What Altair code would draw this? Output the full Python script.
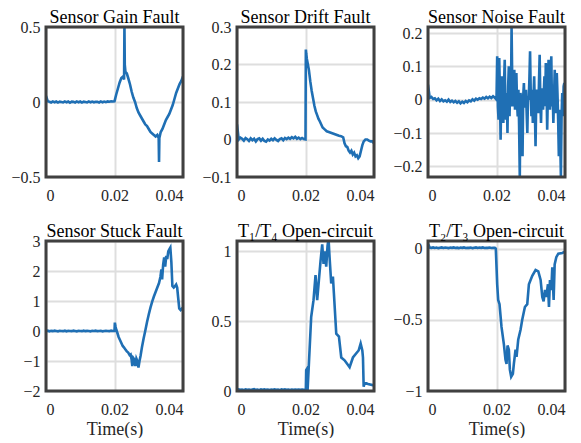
import altair as alt
import pandas as pd

# ---------------- data ----------------
# sampling grid of the healthy part (0 .. 0.0195 s)
T_PRE = [round(0.0005 * i, 4) for i in range(40)]

# Panel 1: Sensor Gain Fault
GAIN_PRE = [0.04, 0.005, 0.002, -0.003, 0.004, -0.002, 0.003, -0.004, 0.002, 0.000,
            -0.003, 0.004, -0.002, 0.003, -0.005, 0.002, 0.001, -0.003, 0.004, -0.002,
            0.003, -0.004, 0.002, 0.000, -0.003, 0.004, -0.002, 0.003, -0.002, 0.002,
            0.001, -0.003, 0.004, -0.002, 0.003, -0.001, 0.004, 0.002, 0.005, 0.003]
GAIN_T = [0.0200, 0.0205, 0.0210, 0.0215, 0.0220, 0.0225, 0.0228, 0.0229, 0.0230, 0.0232,
          0.0236, 0.0240, 0.0245, 0.0250, 0.0255, 0.0260, 0.0265, 0.0270, 0.0275, 0.0280,
          0.0285, 0.0290, 0.0295, 0.0300, 0.0305, 0.0310, 0.0315, 0.0320, 0.0325, 0.0329,
          0.0330, 0.0331, 0.0335, 0.0340, 0.0345, 0.0350, 0.0355, 0.0360, 0.0365, 0.0370,
          0.0375, 0.0380, 0.0385, 0.0390, 0.0395, 0.0400]
GAIN_V = [0.005, 0.05, 0.09, 0.13, 0.16, 0.17, 0.15, 0.52, 0.25, 0.20,
          0.19, 0.16, 0.12, 0.07, 0.03, 0.00, -0.04, -0.07, -0.09, -0.11,
          -0.13, -0.15, -0.16, -0.18, -0.20, -0.21, -0.22, -0.23, -0.22, -0.24,
          -0.40, -0.24, -0.20, -0.18, -0.15, -0.12, -0.10, -0.08, -0.05, -0.02,
          0.02, 0.06, 0.09, 0.12, 0.14, 0.17]

# Panel 2: Sensor Drift Fault
DRIFT_PRE = [0.04, 0.0, 0.005, 0.002, -0.003, 0.004, 0.001, -0.004, 0.003, -0.002,
             0.002, -0.005, 0.001, 0.003, -0.003, 0.002, -0.004, -0.006, 0.0, -0.003,
             0.002, -0.002, 0.003, -0.001, -0.004, 0.001, 0.003, -0.002, 0.004, 0.001,
             0.005, 0.002, 0.006, 0.003, 0.007, 0.002, 0.005, 0.001, 0.004, 0.001]
DRIFT_T = [0.0200, 0.0201, 0.0202, 0.0204, 0.0207, 0.0210, 0.0214, 0.0218, 0.0222, 0.0226,
           0.0230, 0.0234, 0.0238, 0.0242, 0.0246, 0.0250, 0.0256, 0.0262, 0.0268, 0.0274,
           0.0280, 0.0286, 0.0292, 0.0298, 0.0304, 0.0310, 0.0314, 0.0318, 0.0322, 0.0326,
           0.0330, 0.0334, 0.0338, 0.0342, 0.0346, 0.0350, 0.0354, 0.0358, 0.0362, 0.0366,
           0.0370, 0.0375, 0.0380, 0.0385, 0.0390, 0.0395, 0.0400]
DRIFT_V = [0.0, 0.24, 0.23, 0.215, 0.20, 0.185, 0.155, 0.13, 0.11, 0.09,
           0.075, 0.065, 0.055, 0.048, 0.04, 0.032, 0.027, 0.022, 0.02, 0.018,
           0.016, 0.014, 0.012, 0.01, 0.009, 0.006, -0.01, -0.018, -0.02, -0.03,
           -0.035, -0.03, -0.04, -0.035, -0.045, -0.042, -0.05, -0.045, -0.03, -0.015,
           -0.005, 0.0, 0.0, -0.003, -0.005, -0.005, -0.01]

# Panel 3: Sensor Noise Fault
NOISE_PRE = [0.045, 0.005, 0.008, 0.002, 0.004, -0.002, 0.003, -0.004, 0.001, -0.005,
             -0.002, -0.006, 0.000, -0.007, -0.003, -0.008, -0.004, -0.009, -0.005, -0.011,
             -0.006, -0.01, -0.004, -0.008, -0.002, -0.005, 0.001, -0.003, 0.003, 0.000,
             0.004, 0.002, 0.006, 0.003, 0.008, 0.004, 0.009, 0.005, 0.01, 0.006]
NOISE_T = [round(0.02 + 0.0002 * i, 4) for i in range(101)]
NOISE_V = [0.00, 0.13, -0.02, -0.06, 0.125, 0.02, -0.12, 0.03, 0.07, -0.04,
           -0.07, 0.05, 0.12, -0.03, -0.06, 0.02, -0.10, 0.04, 0.10, -0.05,
           0.03, -0.02, 0.22, 0.05, -0.02, 0.04, 0.09, -0.03, 0.02, 0.08,
           -0.01, -0.05, 0.03, -0.08, -0.235, 0.02, 0.00, -0.04, -0.17, 0.01,
           0.05, -0.02, -0.02, 0.03, -0.04, -0.10, 0.01, 0.00, 0.06, 0.145,
           0.02, -0.05, 0.03, -0.07, 0.01, 0.07, -0.03, -0.14, 0.00, 0.03,
           -0.02, -0.04, 0.05, 0.135, 0.00, -0.07, 0.03, 0.03, -0.03, 0.02,
           0.07, -0.02, 0.11, 0.04, -0.09, 0.02, 0.12, -0.01, -0.03, 0.05,
           0.13, -0.02, 0.03, -0.07, 0.01, 0.09, -0.03, -0.04, 0.08, 0.02,
           -0.06, -0.17, -0.03, -0.12, -0.23, -0.05, 0.02, -0.05, 0.04, 0.05,
           0.02]

# Panel 4: Sensor Stuck Fault
STUCK_PRE = [0.0, 0.01, -0.01, 0.005, -0.005, 0.01, 0.0, -0.01, 0.005, 0.0,
             -0.005, 0.01, -0.01, 0.005, 0.0, -0.005, 0.01, 0.0, -0.01, 0.005,
             0.0, -0.005, 0.01, -0.005, 0.005, 0.0, -0.01, 0.005, 0.0, 0.01,
             -0.005, 0.0, 0.005, -0.01, 0.0, 0.005, 0.0, -0.005, 0.01, 0.0]
STUCK_T = [0.0200, 0.0201, 0.0203, 0.0205, 0.0208, 0.0212, 0.0216, 0.0220, 0.0224, 0.0228,
           0.0232, 0.0236, 0.0240, 0.0244, 0.0247, 0.0250, 0.0252, 0.0255, 0.0258, 0.0261,
           0.0264, 0.0267, 0.0270, 0.0273, 0.0276, 0.0280, 0.0285, 0.0290, 0.0295, 0.0300,
           0.0305, 0.0310, 0.0315, 0.0320, 0.0325, 0.0330, 0.0334, 0.0337, 0.0339, 0.0342,
           0.0345, 0.0348, 0.0351, 0.0354, 0.0357, 0.0360, 0.0363, 0.0366, 0.0369, 0.0373,
           0.0377, 0.0380, 0.0383, 0.0386, 0.0389, 0.0393, 0.0397, 0.0400]
STUCK_V = [0.0, 0.28, 0.15, 0.05, -0.05, -0.2, -0.3, -0.4, -0.5, -0.55,
           -0.62, -0.68, -0.72, -0.8, -0.78, -0.95, -1.17, -0.9, -0.95, -1.17,
           -0.92, -1.0, -1.22, -1.0, -0.83, -0.55, -0.25, 0.02, 0.3, 0.55,
           0.78, 0.98, 1.15, 1.3, 1.45, 1.6, 1.8, 2.05, 1.72, 2.2,
           2.45, 2.15, 2.5, 2.4, 2.65, 2.72, 2.78, 2.3, 1.5, 1.45,
           1.5, 1.55, 1.45, 1.1, 0.75, 0.7, 0.75, 0.78]

# Panel 5: T1/T4 open-circuit
T14_PRE = [0.01, 0.012, 0.008, 0.01, 0.006, 0.012, 0.009, 0.011, 0.007, 0.01,
           0.013, 0.008, 0.01, 0.006, 0.011, 0.009, 0.012, 0.008, 0.01, 0.007,
           0.011, 0.009, 0.012, 0.008, 0.01, 0.006, 0.011, 0.009, 0.012, 0.008,
           0.01, 0.007, 0.011, 0.009, 0.01, 0.008, 0.011, 0.009, 0.01, 0.008]
T14_T = [0.0200, 0.0201, 0.0202, 0.02045, 0.0206, 0.0208, 0.0210, 0.02166, 0.02234, 0.02293,
         0.02341, 0.0239, 0.02439, 0.02488, 0.02527, 0.02566, 0.02605, 0.02644, 0.02673, 0.02702,
         0.02751, 0.0280, 0.02829, 0.02898, 0.02976, 0.03044, 0.03141, 0.03288, 0.03385, 0.03483,
         0.03551, 0.0361, 0.03659, 0.03678, 0.03698, 0.03727, 0.03824, 0.0400]
T14_V = [0.01, 0.01, 0.15, 0.16, 0.0, 0.1, 0.2, 0.53, 0.65, 0.83,
         0.65, 0.79, 0.93, 1.05, 0.91, 1.0, 0.89, 1.04, 1.09, 0.96,
         0.77, 0.82, 0.7, 0.41, 0.39, 0.24, 0.22, 0.17, 0.24, 0.27,
         0.29, 0.34, 0.29, 0.24, 0.03, 0.06, 0.05, 0.04]

# Panel 6: T2/T3 open-circuit
T23_PRE = [0.035, 0.008, 0.006, 0.009, 0.005, 0.008, 0.004, 0.007, 0.009, 0.005,
           0.008, 0.006, 0.004, 0.008, 0.006, 0.009, 0.005, 0.007, 0.004, 0.008,
           0.006, 0.009, 0.005, 0.007, 0.006, 0.008, 0.004, 0.007, 0.009, 0.005,
           0.008, 0.006, 0.009, 0.005, 0.007, 0.006, 0.008, 0.005, 0.007, 0.006]
T23_T = [0.0198, 0.0202, 0.02049, 0.02088, 0.02146, 0.02215, 0.02263, 0.02293, 0.02322, 0.02361,
         0.0239, 0.02429, 0.02478, 0.02507, 0.02556, 0.02585, 0.02634, 0.02702, 0.02751, 0.02829,
         0.02898, 0.02946, 0.03044, 0.03141, 0.0322, 0.03288, 0.03337, 0.03376, 0.03415, 0.03454,
         0.03502, 0.03532, 0.03561, 0.0360, 0.03629, 0.03668, 0.03698, 0.03746, 0.03805, 0.03922,
         0.0400]
T23_V = [0.0, -0.25, -0.36, -0.39, -0.55, -0.67, -0.78, -0.81, -0.68, -0.71,
         -0.85, -0.9, -0.88, -0.81, -0.71, -0.76, -0.64, -0.57, -0.5, -0.41,
         -0.39, -0.25, -0.19, -0.15, -0.16, -0.22, -0.34, -0.37, -0.29, -0.34,
         -0.25, -0.41, -0.22, -0.29, -0.13, -0.36, -0.11, -0.06, -0.035, -0.03,
         -0.02]

TITLES = ["Sensor Gain Fault", "Sensor Drift Fault", "Sensor Noise Fault",
          "Sensor Stuck Fault", "T\u2081/T\u2084 Open-circuit", "T\u2082/T\u2083 Open-circuit"]
Y_DOMAINS = [[-0.5, 0.5], [-0.1, 0.3], [-0.232, 0.218], [-2, 3], [0, 1.074], [-1, 0.054]]
Y_TICKS = [[-0.5, 0, 0.5], [-0.1, 0, 0.1, 0.2, 0.3], [-0.2, -0.1, 0, 0.1, 0.2],
           [-2, -1, 0, 1, 2, 3], [0, 0.5, 1], [-1, -0.5, 0]]
X_TICKS = [0, 0.02, 0.04]
X_TITLE = "Time(s)"

SERIES = [
    (GAIN_PRE, GAIN_T, GAIN_V),
    (DRIFT_PRE, DRIFT_T, DRIFT_V),
    (NOISE_PRE, NOISE_T, NOISE_V),
    (STUCK_PRE, STUCK_T, STUCK_V),
    (T14_PRE, T14_T, T14_V),
    (T23_PRE, T23_T, T23_V),
]

# ---------------- style ----------------
FONT = "Liberation Serif"
LINE = "#1f6fb4"
FRAME = "#404040"
GRID = "#dedede"
W, H = 137, 150


def panel(i):
    pre, tf, vf = SERIES[i]
    df = pd.DataFrame({"t": T_PRE + tf, "v": pre + vf})
    bottom = i >= 3
    x = alt.X("t:Q",
              scale=alt.Scale(domain=[0, 0.04], nice=False, zero=False),
              axis=alt.Axis(values=X_TICKS, format="~f",
                            title=X_TITLE if bottom else None))
    y = alt.Y("v:Q",
              scale=alt.Scale(domain=Y_DOMAINS[i], nice=False, zero=False),
              axis=alt.Axis(values=Y_TICKS[i], format="~g", title=None))
    line = alt.Chart(df).mark_line(color=LINE, strokeWidth=2.6, clip=True).encode(x=x, y=y)
    frame = alt.Chart(pd.DataFrame({"k": [0]})).mark_rect(
        filled=False, stroke=FRAME, strokeWidth=3
    ).encode(x=alt.value(0), x2=alt.value("width"), y=alt.value(0), y2=alt.value("height"))
    title = alt.Chart(pd.DataFrame({"title": [TITLES[i]]})).mark_text(
        font=FONT, fontSize=18, color="#000000", align="center", baseline="alphabetic"
    ).encode(x=alt.value(W / 2), y=alt.value(-4.5), text="title:N")
    return alt.layer(line, frame, title).properties(width=W, height=H)


chart = alt.concat(*[panel(i) for i in range(6)], columns=3,
                   spacing={"row": 64, "column": 54}, bounds="flush").properties(
    padding={"left": 2, "top": 0, "right": 0, "bottom": 0}
).configure_view(stroke=None).configure_axis(
    labelFont=FONT, labelFontSize=16, labelColor="#262626",
    titleFont=FONT, titleFontSize=18, titleFontWeight="normal", titleColor="#262626",
    ticks=False, tickSize=0, domain=False,
    grid=True, gridColor=GRID, gridWidth=2,
    labelPadding=10, titlePadding=3,
).configure_axisY(labelPadding=6)

chart.save("out.html", embed_options={"renderer": "svg", "actions": False})
